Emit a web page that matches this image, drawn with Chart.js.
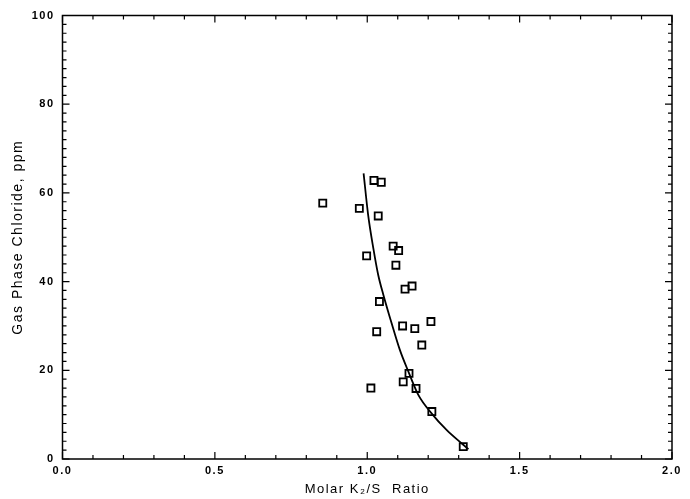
<!DOCTYPE html>
<html lang="en">
<head>
    <meta charset="UTF-8">
    <title>Gas Phase Chloride vs Molar K2/S Ratio</title>
    <style>
        html, body { margin: 0; padding: 0; background: #fff; }
        #wrap { width: 690px; height: 499px; }
    </style>
</head>
<body>
    <div id="wrap"><canvas id="grafico" width="690" height="499"></canvas></div>

    <script src="https://cdn.jsdelivr.net/npm/chart.js@4"></script>
    <script>
        // misure (quadrati vuoti)
        const misureX = [1.022, 1.046, 0.854, 0.974, 1.036, 1.085, 1.103, 0.998, 1.094, 1.124, 1.147, 1.040,
                         1.209, 1.031, 1.116, 1.156, 1.179, 1.137, 1.118, 1.012, 1.160, 1.212, 1.315];
        const misureY = [62.8, 62.4, 57.7, 56.5, 54.8, 48.0, 47.0, 45.8, 43.7, 38.3, 39.0, 35.5,
                         31.0, 28.7, 30.0, 29.4, 25.7, 19.3, 17.4, 16.0, 15.9, 10.7, 2.8];

        // curva di regressione
        const curvaX = [0.988, 1.003, 1.020, 1.036, 1.053, 1.080, 1.107, 1.135, 1.168, 1.211, 1.261, 1.310, 1.332];
        const curvaY = [64.4, 55.0, 47.5, 41.5, 37.0, 30.6, 24.6, 19.7, 14.4, 10.3, 6.5, 3.5, 2.2];

        // etichette degli assi
        const tickX = [0, 0.5, 1, 1.5, 2];
        const tickY = [0, 20, 40, 60, 80, 100];
        const passoMinoreX = 0.1;
        const passoMinoreY = 2;

        const FONT = "'Liberation Sans', Arial, Helvetica, sans-serif";

        // cornice + tacche rivolte verso l'interno su tutti i lati
        const cornice = {
            id: 'cornice',
            beforeDraw(chart) {
                chart.ctx.letterSpacing = '1.5px';
            },
            afterDraw(chart) {
                const { ctx, chartArea: a, scales } = chart;
                const sx = scales.x, sy = scales.y;
                ctx.save();
                ctx.letterSpacing = '0px';
                ctx.strokeStyle = '#000';
                ctx.lineWidth = 1.5;
                ctx.strokeRect(a.left, a.top, a.right - a.left, a.bottom - a.top);
                ctx.lineWidth = 1.2;
                ctx.beginPath();
                const nx = Math.round((sx.max - sx.min) / passoMinoreX);
                for (let i = 0; i <= nx; i++) {
                    const v = sx.min + i * passoMinoreX;
                    const px = sx.getPixelForValue(v);
                    const L = (i % 5 === 0) ? 7 : 4;
                    ctx.moveTo(px, a.bottom); ctx.lineTo(px, a.bottom - L);
                    ctx.moveTo(px, a.top); ctx.lineTo(px, a.top + L);
                }
                const ny = Math.round((sy.max - sy.min) / passoMinoreY);
                for (let i = 0; i <= ny; i++) {
                    const v = sy.min + i * passoMinoreY;
                    const py = sy.getPixelForValue(v);
                    const L = (i % 10 === 0) ? 7 : 4;
                    ctx.moveTo(a.left, py); ctx.lineTo(a.left + L, py);
                    ctx.moveTo(a.right, py); ctx.lineTo(a.right - L, py);
                }
                ctx.stroke();
                ctx.restore();
            }
        };

        const ctx = document.getElementById('grafico').getContext('2d');
        const grafico = new Chart(ctx, {
            type: 'scatter',
            data: {
                datasets: [
                    {
                        label: 'Misure',
                        data: misureX.map((x, i) => ({ x: x, y: misureY[i] })),
                        pointStyle: 'rect',
                        pointRadius: 5,
                        pointBorderWidth: 1.8,
                        pointBorderColor: '#000',
                        pointBackgroundColor: 'rgba(255,255,255,0)',
                        showLine: false
                    },
                    {
                        label: 'Curva',
                        data: curvaX.map((x, i) => ({ x: x, y: curvaY[i] })),
                        showLine: true,
                        borderColor: '#000',
                        borderWidth: 1.8,
                        cubicInterpolationMode: 'monotone',
                        pointRadius: 0,
                        fill: false
                    }
                ]
            },
            options: {
                responsive: false,
                animation: false,
                devicePixelRatio: 1,
                layout: { padding: { left: 0, right: 18, top: 15.5, bottom: 0 } },
                plugins: {
                    legend: { display: false },
                    tooltip: { enabled: false }
                },
                scales: {
                    x: {
                        type: 'linear',
                        min: 0,
                        max: 2,
                        grid: { display: false, drawTicks: false },
                        border: { display: false },
                        afterBuildTicks: s => { s.ticks = tickX.map(v => ({ value: v })); },
                        afterFit: s => { s.height = 40; },
                        ticks: {
                            color: '#000',
                            padding: 5,
                            maxRotation: 0,
                            font: { family: FONT, size: 11, weight: 'bold' },
                            callback: v => Number(v).toFixed(1)
                        },
                        title: {
                            display: true,
                            text: 'Molar K\u2082/S  Ratio',
                            color: '#000',
                            font: { family: FONT, size: 13 },
                            padding: { top: 0, bottom: 1.6 }
                        }
                    },
                    y: {
                        type: 'linear',
                        min: 0,
                        max: 100,
                        grid: { display: false, drawTicks: false },
                        border: { display: false },
                        afterBuildTicks: s => { s.ticks = tickY.map(v => ({ value: v })); },
                        afterFit: s => { s.width = 62.5; },
                        ticks: {
                            color: '#000',
                            padding: 8,
                            font: { family: FONT, size: 11, weight: 'bold' },
                            callback: v => String(v)
                        },
                        title: {
                            display: true,
                            text: 'Gas Phase Chloride, ppm',
                            color: '#000',
                            font: { family: FONT, size: 14 },
                            padding: { top: 9.6, bottom: 0 }
                        }
                    }
                }
            },
            plugins: [cornice]
        });
    </script>
</body>
</html>
